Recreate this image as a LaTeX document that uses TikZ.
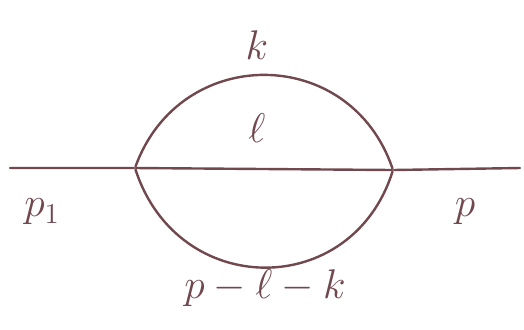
\documentclass[tikz,border=0pt]{standalone}
\usepackage{tikz}
\definecolor{inkbrown}{RGB}{112,72,78}
\tikzset{
  sun vertex/.style={circle,fill=inkbrown,minimum size=1.2pt,inner sep=0pt},
  sun line/.style={inkbrown,line width=1.2pt,line cap=round},
  sun label/.style={text=inkbrown,font=\huge}
}

\begin{document}
\begin{tikzpicture}[x=0.5pt,y=-0.5pt]
  \useasboundingbox (0,0) rectangle (524,329);
  \node[sun vertex] (vl) at (135,168) {};
  \node[sun vertex] (vr) at (393,170) {};
  \coordinate (inl) at (10,168);
  \coordinate (outr) at (520,168);
  \node[sun label] (kk) at (257,45) {$k$};
  \node[sun label] (ll) at (257,128) {$\ell$};
  \node[sun label] (pin) at (42,212) {$p_1$};
  \node[sun label] (pout) at (465,212) {$p$};
  \node[sun label] (plk) at (265,288) {$p-\ell-k$};
  \draw[sun line] (inl)--(vl) (vl)--(vr) (vr)--(outr);
  \draw[sun line] (vl) .. controls (180,44) and (350,44) .. (vr);
  \draw[sun line] (vl) .. controls (178,300) and (352,300) .. (vr);
\end{tikzpicture}
\end{document}
